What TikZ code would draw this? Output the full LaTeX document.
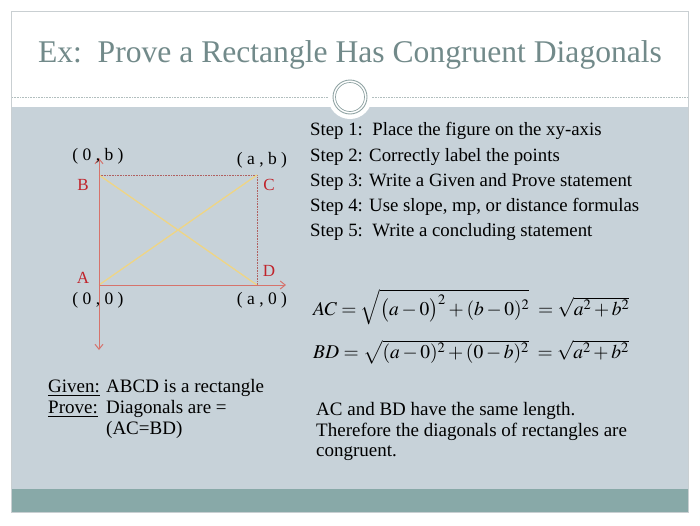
\documentclass[tikz,border=0pt]{standalone}
\usepackage{mathptmx}
\usepackage{fontspec}
\setmainfont{Liberation Serif}
\usetikzlibrary{arrows.meta}
\definecolor{bandgray}{HTML}{C7D2D9}
\definecolor{teal}{HTML}{88A9A8}
\definecolor{titlecol}{HTML}{728A8A}
\definecolor{axiscol}{HTML}{D6736C}
\definecolor{ptred}{HTML}{C0232B}
\definecolor{diagcol}{HTML}{EFD584}
\definecolor{edgecol}{HTML}{B06060}
\definecolor{framecol}{HTML}{C9CFD2}
\definecolor{ringcol}{HTML}{8FA3A3}
\begin{document}
\begin{tikzpicture}[x=1pt,y=-1pt,
  steptext/.style={anchor=west,inner sep=0pt,font=\fontsize{18.8}{20}\selectfont},
  body/.style={anchor=west,inner sep=0pt,font=\fontsize{19}{20}\selectfont},
  coordlbl/.style={inner sep=0pt,font=\fontsize{17.5}{19}\selectfont},
  ptlbl/.style={inner sep=0pt,text=ptred,font=\fontsize{17}{19}\selectfont},
  axis/.style={draw=axiscol,line width=1pt,-{Straight Barb[length=5pt,width=8pt]}},
  diag/.style={draw=diagcol,line width=1.3pt},
  edge/.style={draw=edgecol,densely dotted,line width=0.6pt},
  eq/.style={anchor=west,inner sep=0pt,font=\fontsize{19.5}{22}\selectfont}]
\useasboundingbox (0,0) rectangle (700,525);
\fill[white] (0,0) rectangle (700,525);
% slide frame
\fill[bandgray] (11,107) rectangle (688,489);
\fill[teal] (11,489) rectangle (688,512);
\draw[framecol,line width=0.8pt] (11,11) rectangle (688,512);
\draw[ringcol!70,densely dotted,line width=0.6pt] (12,97.5) -- (330,97.5);
\draw[ringcol!70,densely dotted,line width=0.6pt] (370,97.5) -- (687,97.5);
\fill[white] (350,97) circle (22);
\draw[ringcol,line width=0.9pt] (350,97) circle (17);
\draw[ringcol,line width=0.7pt] (350,97) circle (14.5);
% title
\node[inner sep=0pt,text=titlecol,font=\fontsize{31.6}{36}\selectfont] (title) at (350,55) {Ex:\ \ Prove a Rectangle Has Congruent Diagonals};
% steps
\node[steptext] (s1) at (310,131) {Step 1:\ \ Place the figure on the xy-axis};
\node[steptext] (s2) at (310,157) {Step 2: Correctly label the points};
\node[steptext] (s3) at (310,182) {Step 3: Write a Given and Prove statement};
\node[steptext] (s4) at (310,207) {Step 4: Use slope, mp, or distance formulas};
\node[steptext] (s5) at (310,232) {Step 5:\ \ Write a concluding statement};
% figure
\coordinate (A) at (99,285);
\coordinate (B) at (99,175);
\coordinate (C) at (257,175);
\coordinate (D) at (257,285);
\coordinate (ybot) at (99,350);
\coordinate (ytop) at (99,158);
\coordinate (xend) at (286,285);
\draw[edge] (B) -- (C) -- (D);
\draw[diag] (A) -- (C);
\draw[diag] (B) -- (D);
\draw[axis] (A) -- (xend);
\draw[axis] (A) -- (ytop);
\draw[axis] (A) -- (ybot);
\node[ptlbl] (lB) at (83,185) {B};
\node[ptlbl] (lC) at (269,185) {C};
\node[ptlbl] (lA) at (83,278) {A};
\node[ptlbl] (lD) at (269,271) {D};
\node[coordlbl] (cob) at (98,156) {( 0 , b )};
\node[coordlbl] (cab) at (262,160) {( a , b )};
\node[coordlbl] (coo) at (98,300) {( 0 , 0 )};
\node[coordlbl] (cao) at (262,300) {( a , 0 )};
% equations
\node[eq] (eqAC) at (313,307) {$AC=\sqrt{\bigl(a-0\bigr)^2+(b-0)^2}\;=\sqrt{a^2+b^2}$};
\node[eq] (eqBD) at (313,352) {$BD=\sqrt{(a-0)^2+(0-b)^2}\;=\sqrt{a^2+b^2}$};
% given/prove
\node[body] (given) at (48,388) {\underline{Given:}};
\node[body] (gtext) at (106,388) {ABCD is a rectangle};
\node[body] (prove) at (48,409) {\underline{Prove:}};
\node[body] (ptext) at (106,409) {Diagonals are =};
\node[body] (ptext2) at (106,430) {(AC=BD)};
% conclusion
\node[body] (c1) at (316,411) {AC and BD have the same length.};
\node[body] (c2) at (316,432) {Therefore the diagonals of rectangles are};
\node[body] (c3) at (316,453) {congruent.};
\end{tikzpicture}
\end{document}
